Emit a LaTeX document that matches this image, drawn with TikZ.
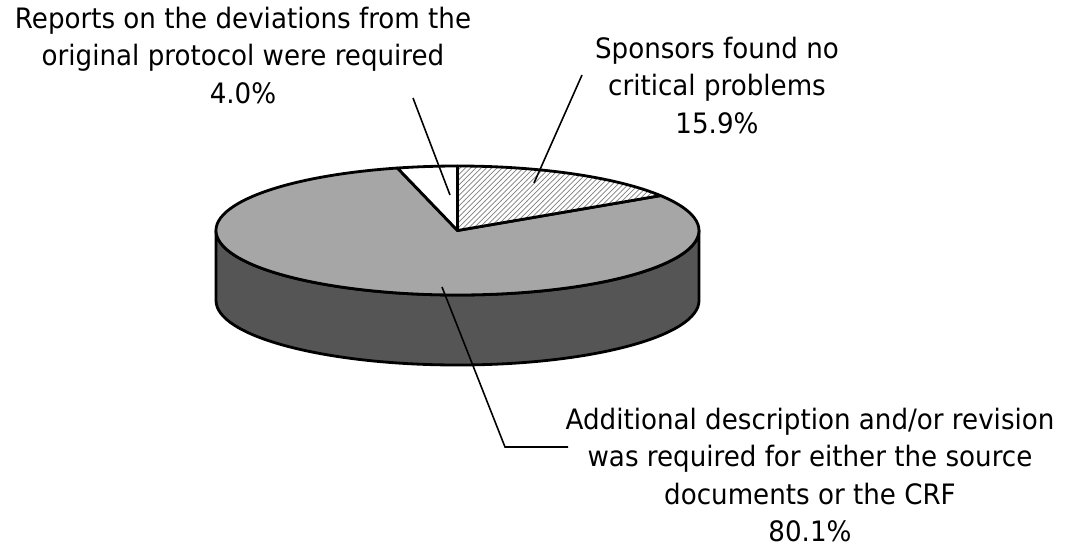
\documentclass[tikz,border=0pt]{standalone}
\usepackage{fontspec}
\setmainfont[FakeStretch=0.93]{DejaVu Sans}
\usetikzlibrary{patterns,positioning,calc}

\definecolor{pietop}{HTML}{A6A6A6}
\definecolor{pieside}{HTML}{555555}

\begin{document}
\begin{tikzpicture}[x=0.02cm,y=0.02cm,
	slice/.style={draw=black,line width=1.6pt,line join=round},
	leader/.style={draw=black,line width=0.9pt},
	lbl/.style={align=center,inner sep=0pt,anchor=north,font=\fontsize{16pt}{21.2pt}\selectfont}]
	\useasboundingbox (0,0) rectangle (1072,549);

	\coordinate (c) at (457.5,318.5);
	\coordinate (cb) at (457.5,248.5);

	\filldraw[slice,fill=pieside] (216,318.5) -- (216,248.5)
		arc[start angle=180,end angle=360,x radius=241.5,y radius=64.5]
		-- (699,318.5) arc[start angle=0,end angle=-180,x radius=241.5,y radius=64.5] -- cycle;

	\filldraw[slice,fill=pietop] (c) -- ($(c)+(104.4:241.5 and 64.5)$)
		arc[start angle=104.4,end angle=392.76,x radius=241.5,y radius=64.5] -- cycle;
	\filldraw[slice,fill=white] (c) -- ($(c)+(90:241.5 and 64.5)$)
		arc[start angle=90,end angle=104.4,x radius=241.5,y radius=64.5] -- cycle;
	\fill[white] (c) -- ($(c)+(32.76:241.5 and 64.5)$)
		arc[start angle=32.76,end angle=90,x radius=241.5,y radius=64.5] -- cycle;
	\filldraw[slice,pattern=north east lines,pattern color=gray] (c) -- ($(c)+(32.76:241.5 and 64.5)$)
		arc[start angle=32.76,end angle=90,x radius=241.5,y radius=64.5] -- cycle;

	\node[lbl] (dev) at (243,542) {Reports on the deviations from the\\original protocol were required\\4.0\%};
	\node[lbl] (spo) at (717,512) {Sponsors found no\\critical problems\\15.9\%};
	\node[lbl] (add) at (810,141) {Additional description and/or revision\\was required for either the source\\documents or the CRF\\80.1\%};

	\coordinate (devA) at (413,451);
	\coordinate (devB) at (450,354);
	\coordinate (spoA) at (582,474);
	\coordinate (spoB) at (534,366);
	\coordinate (addA) at (442,262);
	\coordinate (addK) at (505,102);
	\coordinate (addB) at (568,102);

	\draw[leader] (devA) -- (devB);
	\draw[leader] (spoA) -- (spoB);
	\draw[leader] (addA) -- (addK) -- (addB);
\end{tikzpicture}
\end{document}
